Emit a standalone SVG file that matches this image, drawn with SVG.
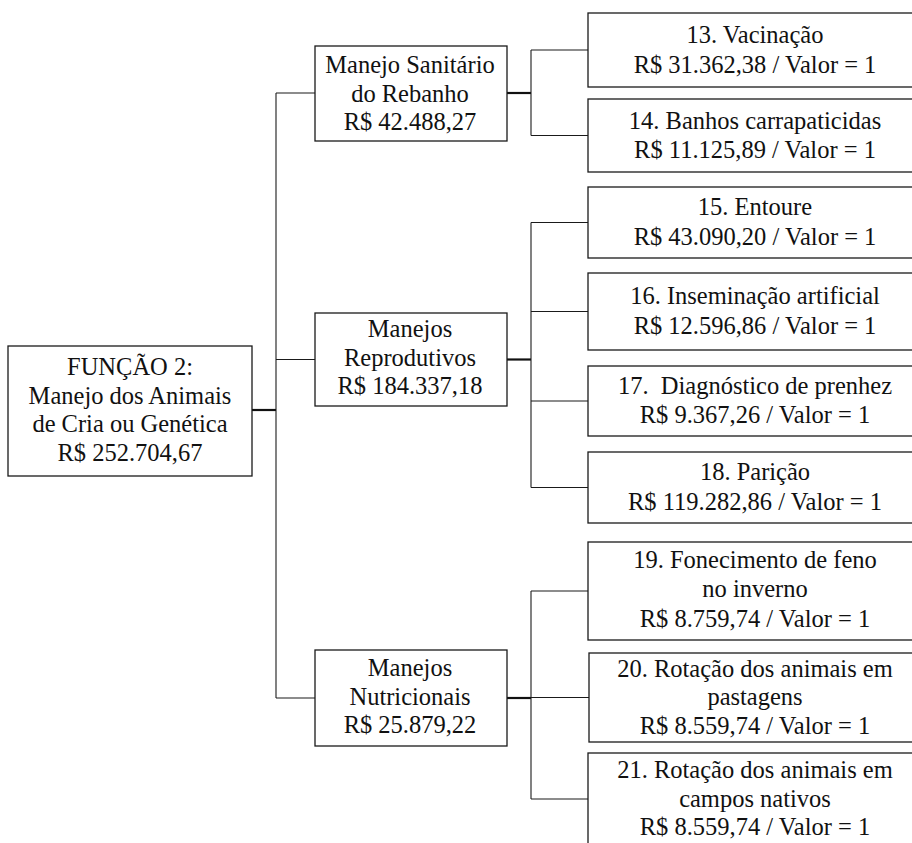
<svg xmlns="http://www.w3.org/2000/svg" width="912" height="843" viewBox="0 0 912 843" font-family="Liberation Serif, serif">
  <style>
    .box { fill: #ffffff; stroke: #1a1a1a; stroke-width: 1.3; }
    .lbl { font-size: 24.5px; fill: #111111; text-anchor: middle; }
    .wire { stroke: #1a1a1a; stroke-width: 1.1; fill: none; }
    .stem { stroke: #111111; stroke-width: 2.2; fill: none; }
  </style>
  <rect width="912" height="843" fill="#ffffff"/>

  <!-- connectors -->
  <g id="connectors">
    <line class="stem" x1="252" y1="410" x2="276" y2="410"/>
    <line class="wire" x1="276" y1="93" x2="276" y2="698"/>
    <line class="wire" x1="276" y1="93" x2="315" y2="93"/>
    <line class="wire" x1="276" y1="359.5" x2="315" y2="359.5"/>
    <line class="wire" x1="276" y1="698" x2="315" y2="698"/>

    <line class="stem" x1="507" y1="93" x2="531" y2="93"/>
    <line class="wire" x1="531" y1="50" x2="531" y2="135.5"/>
    <line class="wire" x1="531" y1="50" x2="588" y2="50"/>
    <line class="wire" x1="531" y1="135.5" x2="588" y2="135.5"/>

    <line class="stem" x1="507" y1="359.5" x2="531" y2="359.5"/>
    <line class="wire" x1="531" y1="222.5" x2="531" y2="487.5"/>
    <line class="wire" x1="531" y1="222.5" x2="588" y2="222.5"/>
    <line class="wire" x1="531" y1="311.5" x2="588" y2="311.5"/>
    <line class="wire" x1="531" y1="401" x2="588" y2="401"/>
    <line class="wire" x1="531" y1="487.5" x2="588" y2="487.5"/>

    <line class="stem" x1="507" y1="698" x2="531" y2="698"/>
    <line class="wire" x1="531" y1="591" x2="531" y2="799"/>
    <line class="wire" x1="531" y1="591" x2="588" y2="591"/>
    <line class="wire" x1="531" y1="697.5" x2="589" y2="697.5"/>
    <line class="wire" x1="531" y1="799" x2="588" y2="799"/>
  </g>

  <!-- root -->
  <g id="funcao2">
    <rect class="box" x="8" y="346" width="244" height="130"/>
    <text class="lbl" x="130" y="375">FUNÇÃO 2:</text>
    <text class="lbl" x="130" y="403.5">Manejo dos Animais</text>
    <text class="lbl" x="130" y="432">de Cria ou Genética</text>
    <text class="lbl" x="130" y="460.5">R$ 252.704,67</text>
  </g>

  <!-- second level -->
  <g id="manejo-sanitario">
    <rect class="box" x="315" y="46" width="192" height="95"/>
    <text class="lbl" x="410" y="73">Manejo Sanitário</text>
    <text class="lbl" x="410" y="101.5">do Rebanho</text>
    <text class="lbl" x="410" y="130">R$ 42.488,27</text>
  </g>
  <g id="manejos-reprodutivos">
    <rect class="box" x="315" y="313" width="192" height="93"/>
    <text class="lbl" x="410" y="337">Manejos</text>
    <text class="lbl" x="410" y="365.5">Reprodutivos</text>
    <text class="lbl" x="410" y="394">R$ 184.337,18</text>
  </g>
  <g id="manejos-nutricionais">
    <rect class="box" x="315" y="650" width="192" height="96"/>
    <text class="lbl" x="410" y="676">Manejos</text>
    <text class="lbl" x="410" y="704.5">Nutricionais</text>
    <text class="lbl" x="410" y="733">R$ 25.879,22</text>
  </g>

  <!-- leaves -->
  <g id="n13">
    <rect class="box" x="588" y="13" width="334" height="74"/>
    <text class="lbl" x="755" y="43">13. Vacinação</text>
    <text class="lbl" x="755" y="72.5">R$ 31.362,38 / Valor = 1</text>
  </g>
  <g id="n14">
    <rect class="box" x="588" y="99" width="334" height="73"/>
    <text class="lbl" x="755" y="128.5">14. Banhos carrapaticidas</text>
    <text class="lbl" x="755" y="158">R$ 11.125,89 / Valor = 1</text>
  </g>
  <g id="n15">
    <rect class="box" x="588" y="187" width="334" height="71"/>
    <text class="lbl" x="755" y="215">15. Entoure</text>
    <text class="lbl" x="755" y="244.5">R$ 43.090,20 / Valor = 1</text>
  </g>
  <g id="n16">
    <rect class="box" x="588" y="273" width="334" height="77"/>
    <text class="lbl" x="755" y="304">16. Inseminação artificial</text>
    <text class="lbl" x="755" y="333.5">R$ 12.596,86 / Valor = 1</text>
  </g>
  <g id="n17">
    <rect class="box" x="588" y="366" width="334" height="70"/>
    <text class="lbl" x="755" y="393.5" xml:space="preserve">17.  Diagnóstico de prenhez</text>
    <text class="lbl" x="755" y="423">R$ 9.367,26 / Valor = 1</text>
  </g>
  <g id="n18">
    <rect class="box" x="588" y="452" width="334" height="71"/>
    <text class="lbl" x="755" y="480">18. Parição</text>
    <text class="lbl" x="755" y="509.5">R$ 119.282,86 / Valor = 1</text>
  </g>
  <g id="n19">
    <rect class="box" x="588" y="542" width="334" height="98"/>
    <text class="lbl" x="755" y="568">19. Fonecimento de feno</text>
    <text class="lbl" x="755" y="597">no inverno</text>
    <text class="lbl" x="755" y="627">R$ 8.759,74 / Valor = 1</text>
  </g>
  <g id="n20">
    <rect class="box" x="589" y="653" width="333" height="89"/>
    <text class="lbl" x="755" y="676.5">20. Rotação dos animais em</text>
    <text class="lbl" x="755" y="705">pastagens</text>
    <text class="lbl" x="755" y="733.5">R$ 8.559,74 / Valor = 1</text>
  </g>
  <g id="n21">
    <rect class="box" x="588" y="753" width="334" height="96"/>
    <text class="lbl" x="755" y="778">21. Rotação dos animais em</text>
    <text class="lbl" x="755" y="806.5">campos nativos</text>
    <text class="lbl" x="755" y="835">R$ 8.559,74 / Valor = 1</text>
  </g>
</svg>
